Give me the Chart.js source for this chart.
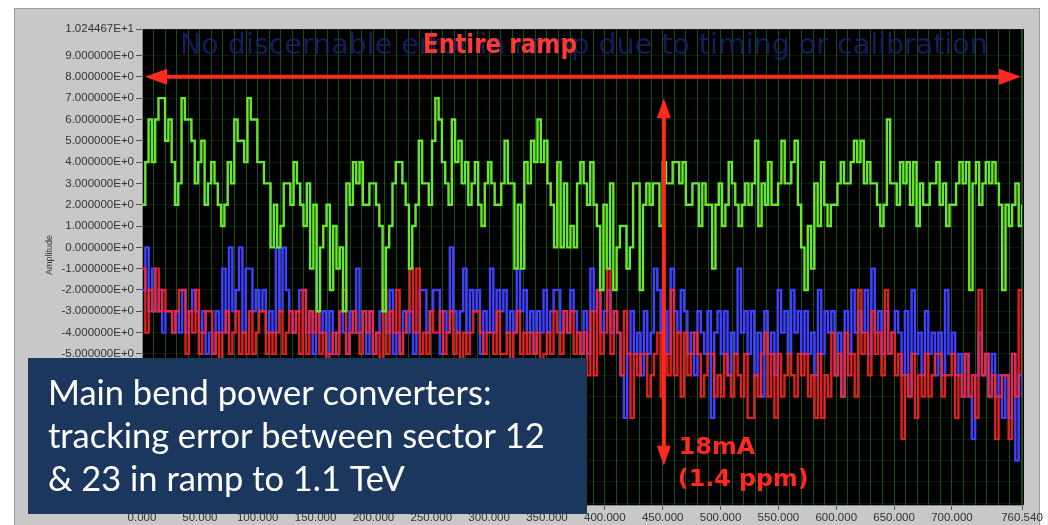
<!DOCTYPE html>
<html>
<head>
<meta charset="utf-8">
<script src="https://cdn.jsdelivr.net/npm/chart.js@4/dist/chart.umd.min.js"></script>
<style>
  html, body { margin: 0; padding: 0; background: #fff; }
  #wrap { width: 1048px; height: 525px; }
</style>
</head>
<body>
<div id="wrap"><canvas id="ramp" width="1048" height="525"></canvas></div>
<script>
// Main bend PC tracking error (sector 12 vs 23)
const xMax = 760.54;
const yMax = 10.24467;
const yMin = -12.09;
const xGridStep = 10;
const xTickLabels = [0, 50, 100, 150, 200, 250, 300, 350, 400, 450, 500, 550, 600, 650, 700, 760.54];
const yTickValues = [10.24467, 9, 8, 7, 6, 5, 4, 3, 2, 1, 0, -1, -2, -3, -4, -5, -6, -7, -8, -9, -10, -11, -12];

const greenTrace = [
  2,4, 6,4, 6,7, 7,5, 6,4, 2,3, 7,6, 6,5, 3,4, 5,2,
  3,4, 3,2, 1,2, 4,3, 6,5, 5,4, 7,6, 6,4, 4,3, 3,0,
  2,0, 1,3, 3,2, 4,3, 2,1, 3,-1, 2,-3, 0,1, 2,-2, 1,-1,
  0,-3, 3,2, 4,3, 4,2, 2,3, 3,2, 1,-3, 0,1, 3,4, 4,3,
  2,-1, 1,2, 5,3, 3,2, 5,7, 6,4, 3,2,
  6,4, 5,3, 4,2, 3,4, 2,1, 3,4, 3,2, 2,3, 5,3, 3,-1,
  2,-1, 4,3, 5,4, 6,4, 5,3, 2,0, 4,0, 3,0, 1,0, 3,4,
  3,2, 4,2, 1,-2, 2,-1, 3,-2, 0,1, 1,-1, 0,3, 3,-2, 2,3,
  2,3, 3,1, 4,3, 3,4, 4,3, 4,2, 2,3, 3,1, 3,2, 2,-1,
  2,3, 1,2, 4,3, 2,1, 2,3,
  2,3, 5,1, 3,2, 4,2, 2,3, 5,3, 3,4, 5,2, 0,-2, 1,-1,
  3,1, 4,2, 1,2, 2,3, 4,3, 3,4, 5,4, 5,3, 4,3, 3,2,
  1,2, 6,3, 3,2, 4,3, 4,2, 4,1, 3,2, 2,3, 3,4, 2,3,
  1,2, 2,3, 4,3, 4,-2, 3,4, 2,3, 4,3, 4,3, 2,-2, 2,1,
  2,3, 1,2
];

const blueTrace = [
  -2,0,-3,-1, -3,-2,-4,-3, -3,-4,-3,-4, -2,-4,-3,-2, -3,-4,-3,-5,
  -4,-5,-3,-4, -1,-4,0,-3, -2,0,-4,-1, -1,-3,-2,-3, -2,-4,-3,-4,
  0,-3,0,-2, -3,-4,-3,-2, -2,-4,-3,-5, -3,-4,-3,-5, -3,-5,-4,-3,
  -4,-5,-3,-4, -1,-4,-3,-5, -3,-5,-4,-3, -3,-4,-2,-5, -4,-5,-3,-4,
  -3,-5,-4,-2, -2,-4,-3,-2, -2,-5,-3,-4, 0,-3,-4,-3, -1,-4,-2,-3,
  -2,-5,-3,-4, -1,-4,-2,-3, -2,-4,-3,-4, -1,-3,-2,-4, -3,-5,-3,-4,
  -2,-4,-3,-2, -2,-4,-3,-4, -2,-3,-4,-5, -3,-5,
  -1,-3,-2,-4, -3,-2,-4,-3, -4,-6,-8,-5, -3,-5,-4,-6, -3,-5,-4,-1,
  -2,-4,-3,-5, -1,-3,-4,-2, -3,-5,-4,-6, -3,-4,-5,-3, -8,-4,-3,-5,
  -3,-6,-4,-5, -1,-4,-3,-5, -3,-6,-4,-7, -3,-5,-4,-6, -2,-4,-3,-5,
  -2,-4,-3,-5, -3,-5,-4,-6, -2,-5,-3,-4, -3,-6,-4,-7, -3,-5,-2,-4,
  -3,-4,-2,-5, -1,-4,-3,-5, -3,-5,-4,-3, -4,-6,-3,-7, -2,-5,-4,-6,
  -3,-5,-4,-6, -4,-6,-2,-5, -4,-6,-5,-7, -5,-7,-9,-6, -4,-6,-5,-7,
  -5,-7,-6,-8, -6,-8,-5,-10, -6,-7
];

const redTrace = [
  -1,-4,-2,-3, -1,-3,-2,-3, -3,-4,-3,-2, -2,-5,-3,-4, -2,-5,-4,-3,
  -3,-5,-4,-6, -4,-3,-5,-4, -3,-5,-4,-5, -3,-5,-4,-3, -3,-5,-4,-5,
  -4,-3,-5,-4, -3,-4,-3,-5, -2,-5,-3,-4, -3,-5,-4,-6, -5,-4,-5,-3,
  -2,-5,-4,-3, -4,-5,-3,-4, -3,-5,-4,-6, -2,-5,-3,-4, -2,-5,-4,-3,
  -1,-4,-1,-5, -4,-5,-3,-4, -4,-3,-5,-4, -3,-5,-4,-6, -4,-5,-4,-3,
  -3,-4,-5,-4, -4,-5,-3,-5, -5,-4,-6,-4, -3,-5,-4,-5, -4,-5,-4,-6,
  -5,-4,-5,-3, -4,-5,-3,-4, -3,-5,-4,-5, -4,-6,
  -3,-6,-2,-5, -4,-1,-5,-3, -4,-6,-3,-5, -8,-5,-6,-5, -5,-7,-6,-5,
  -4,-7,-5,-6, -2,-6,-4,-7, -4,-6,-5,-4, -5,-7,-6,-5, -5,-7,-6,-7,
  -5,-6,-7,-5, -6,-7,-5,-8, -8,-6,-7,-5, -4,-7,-5,-8, -5,-7,-6,-5,
  -6,-7,-5,-6, -5,-7,-6,-8, -5,-8,-6,-7, -4,-6,-5,-7, -4,-6,-5,-7,
  -2,-5,-4,-6, -3,-5,-4,-6, -2,-5,-4,-6, -5,-9,-6,-7, -5,-8,-6,-7,
  -5,-7,-6,-5, -5,-7,-6,-6, -5,-8,-6,-7, -5,-7,-6,-8, -2,-6,-5,-7,
  -6,-9,-7,-6, -6,-9,-5,-7, -2,-6
];

const boxLines = ["Main bend power converters:", "tracking error between sector 12", "& 23 in ramp to 1.1 TeV"];

// samples are evenly spaced over the ramp
function toPoints(arr) {
  return arr.map((v, i) => ({ x: i * xMax / (arr.length - 1), y: v }));
}

function sci(v) {
  return v.toExponential(6).toUpperCase();
}

function fitSize(ctx, text, weight, family, width) {
  ctx.font = `${weight} 100px ${family}`;
  return 100 * width / ctx.measureText(text).width;
}

function doubleArrow(ctx, x1, y1, x2, y2, head, half, lw) {
  const ang = Math.atan2(y2 - y1, x2 - x1);
  const c = Math.cos(ang), s = Math.sin(ang);
  ctx.lineWidth = lw;
  ctx.beginPath();
  ctx.moveTo(x1 + c * (head - 2), y1 + s * (head - 2));
  ctx.lineTo(x2 - c * (head - 2), y2 - s * (head - 2));
  ctx.stroke();
  [[x1, y1, 1], [x2, y2, -1]].forEach(([px, py, d]) => {
    const bx = px + d * c * head, by = py + d * s * head;
    ctx.beginPath();
    ctx.moveTo(px, py);
    ctx.lineTo(bx - s * half, by + c * half);
    ctx.lineTo(bx + s * half, by - c * half);
    ctx.closePath();
    ctx.fill();
  });
}

const panelBg = {
  id: "panelBg",
  beforeDraw(chart) {
    const { ctx, chartArea: a } = chart;
    ctx.save();
    ctx.fillStyle = "#ffffff";
    ctx.fillRect(0, 0, chart.width, chart.height);
    ctx.fillStyle = "#c8c8c8";
    ctx.fillRect(14, 8, 1026, 520);
    ctx.strokeStyle = "#9c9c9c";
    ctx.lineWidth = 1;
    ctx.strokeRect(14.5, 8.5, 1025, 520);
    ctx.fillStyle = "#000000";
    ctx.fillRect(a.left, a.top, a.width + 2, a.height);
    ctx.restore();
  }
};

const overlay = {
  id: "overlay",
  afterDraw(chart) {
    const { ctx, chartArea: a } = chart;
    const xs = chart.scales.x, ys = chart.scales.y;
    ctx.save();

    // faint caption behind the trace
    let fs = fitSize(ctx, "No discernable error in ramp due to timing or calibration", "normal", "'DejaVu Sans'", 808);
    ctx.font = `normal ${fs}px 'DejaVu Sans'`;
    ctx.fillStyle = "rgba(22,36,112,0.8)";
    ctx.textBaseline = "alphabetic";
    ctx.fillText("No discernable error in ramp due to timing or calibration", a.left + 38, a.top + 25);

    const red = "#ff2a1e";
    ctx.strokeStyle = red;
    fs = fitSize(ctx, "Entire ramp", "bold", "'DejaVu Sans Condensed'", 154);
    ctx.font = `bold ${fs}px 'DejaVu Sans Condensed'`;
    ctx.fillStyle = "#ff3a34";
    ctx.fillText("Entire ramp", 423, a.top + 24);

    ctx.fillStyle = red;
    const yArrow = ys.getPixelForValue(8);
    doubleArrow(ctx, xs.getPixelForValue(0) + 3, yArrow, xs.getPixelForValue(xMax) - 1, yArrow, 22, 8, 4);

    const xArrow = xs.getPixelForValue(451);
    doubleArrow(ctx, xArrow, ys.getPixelForValue(7), xArrow, ys.getPixelForValue(-10.25), 20, 7, 4);

    fs = fitSize(ctx, "(1.4 ppm)", "bold", "'DejaVu Sans'", 131);
    ctx.font = `bold ${fs}px 'DejaVu Sans'`;
    ctx.fillText("18mA", xArrow + 15, 454);
    ctx.fillText("(1.4 ppm)", xArrow + 14, 486);

    // axis title
    ctx.save();
    ctx.translate(52, 255);
    ctx.rotate(-Math.PI / 2);
    ctx.font = "9px 'Liberation Sans'";
    ctx.fillStyle = "#333";
    ctx.textAlign = "center";
    ctx.fillText("Amplitude", 0, 0);
    ctx.restore();

    // caption box
    ctx.fillStyle = "#1c375e";
    ctx.fillRect(28, 358, 559, 156);
    fs = fitSize(ctx, boxLines[1], "normal", "Lato", 497);
    ctx.font = `normal ${fs}px Lato`;
    ctx.fillStyle = "#ffffff";
    ctx.textAlign = "left";
    boxLines.forEach((t, i) => ctx.fillText(t, 48, 405 + i * 43));

    ctx.restore();
  }
};

const ctx = document.getElementById("ramp").getContext("2d");
new Chart(ctx, {
  type: "line",
  data: {
    datasets: [
      { label: "Sector 12-23 A", data: toPoints(greenTrace), borderColor: "rgb(104,232,44)", borderWidth: 2.4, stepped: true, pointRadius: 0, order: 0 },
      { label: "Sector 12-23 B", data: toPoints(redTrace), borderColor: "rgba(255,40,40,0.85)", borderWidth: 2.4, stepped: true, pointRadius: 0, order: 1 },
      { label: "Sector 12-23 C", data: toPoints(blueTrace), borderColor: "rgb(64,64,255)", borderWidth: 2.4, stepped: true, pointRadius: 0, order: 2 }
    ]
  },
  options: {
    responsive: false,
    animation: false,
    events: [],
    layout: { padding: { left: 14, right: 26, top: 29, bottom: 0 } },
    plugins: { legend: { display: false }, tooltip: { enabled: false } },
    scales: {
      x: {
        type: "linear",
        min: 0,
        max: xMax,
        afterBuildTicks: (scale) => {
          const t = [];
          for (let v = 0; v <= xMax; v += xGridStep) t.push({ value: v });
          t.push({ value: xMax });
          scale.ticks = t;
        },
        afterFit: (scale) => { scale.height = 20; },
        ticks: {
          autoSkip: false,
          maxRotation: 0,
          padding: 1,
          font: { family: "'Liberation Sans'", size: 11.5 },
          color: "#333",
          callback: (v) => (xTickLabels.includes(v) ? v.toFixed(3) : "")
        },
        grid: {
          color: "rgba(40,160,40,0.5)",
          lineWidth: 1,
          tickLength: 5,
          tickColor: (c) => (c.tick && xTickLabels.includes(c.tick.value) ? "#555" : "rgba(0,0,0,0)")
        },
        border: { color: "#888" }
      },
      y: {
        min: yMin,
        max: yMax,
        afterBuildTicks: (scale) => { scale.ticks = yTickValues.map((v) => ({ value: v })); },
        afterFit: (scale) => { scale.width = 128; },
        ticks: {
          padding: 2,
          font: { family: "'Liberation Sans'", size: 11.5 },
          color: "#333",
          callback: (v) => sci(v)
        },
        grid: {
          color: "rgba(40,120,40,0.22)",
          tickLength: 6,
          tickColor: "#555"
        },
        border: { color: "#888" }
      }
    }
  },
  plugins: [panelBg, overlay]
});
</script>
</body>
</html>
